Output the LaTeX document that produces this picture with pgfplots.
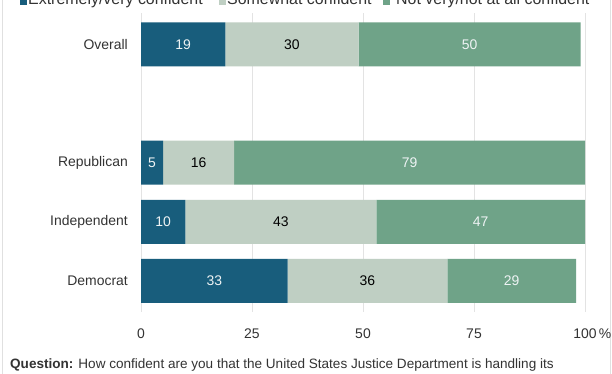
\documentclass[border=0pt]{standalone}
\usepackage{pgfplots}
\pgfplotsset{compat=1.18}
\usepackage{fontspec}
\setmainfont{Liberation Sans}
\definecolor{c1}{HTML}{185D7C}
\definecolor{c2}{HTML}{BFCFC3}
\definecolor{c3}{HTML}{6FA388}
\definecolor{tx}{HTML}{333333}
\definecolor{lw}{HTML}{EEF3F4}
\begin{document}
\begin{tikzpicture}
\useasboundingbox (0bp,0bp) rectangle (612bp,374bp);
\clip (0bp,0bp) rectangle (612bp,374bp);
\fill[white] (0bp,0bp) rectangle (612bp,374bp);
\draw[black!12, line width=1bp] (2bp,-20bp) rectangle (610bp,400bp);
\begin{axis}[at={(141bp,62bp)}, anchor=south west, scale only axis,
  width=444bp, height=299bp,
  xbar stacked, bar width=44bp,
  xmin=0, xmax=100, ymin=-0.524, ymax=4.53,
  xtick={0,25,50,75,100}, xticklabels={0,25,50,75,100\rlap{\,\%}},
  ytick={0,1,2,4}, yticklabels={Democrat,Independent,Republican,Overall},
  xmajorgrids, grid style={draw=black!11, line width=1bp},
  axis line style={draw=none}, major tick length=0pt,
  /pgf/number format/assume math mode=true,
  tick label style={font=\fontsize{14}{16}\selectfont, text=tx},
  xticklabel style={inner sep=0pt, anchor=north, yshift=-17bp},
  yticklabel style={inner sep=0pt, anchor=east, xshift=-13bp},
  nodes near coords,
  every node near coord/.append style={font=\fontsize{14}{16}\selectfont},
  clip=false,
]
\addplot[fill=c1, draw=none, nodes near coords style={text=lw}] coordinates {(33,0) (10,1) (5,2) (19,4)};
\addplot[fill=c2, draw=none, nodes near coords style={text=black}] coordinates {(36,0) (43,1) (16,2) (30,4)};
\addplot[fill=c3, draw=none, nodes near coords style={text=lw}] coordinates {(29,0) (47,1) (79,2) (50,4)};
\end{axis}
\node[anchor=base west, inner sep=0pt, font=\fontsize{16}{18}\selectfont, text=tx] at (20bp,369.3bp) {\textcolor{c1}{\rule{7bp}{7bp}}\hspace{1bp}Extremely/very confident};
\node[anchor=base west, inner sep=0pt, font=\fontsize{16}{18}\selectfont, text=tx] at (219bp,369.3bp) {\textcolor{c2}{\rule{7bp}{7bp}}\hspace{1bp}Somewhat confident};
\node[anchor=base west, inner sep=0pt, font=\fontsize{16}{18}\selectfont, text=tx] at (383bp,369.3bp) {\textcolor{c3}{\rule{7bp}{7bp}}\hspace{6bp}Not very/not at all confident};
\node[anchor=base west, inner sep=0pt, font=\fontsize{13.6}{16}\selectfont, text=tx] at (10bp,6bp) {\textbf{Question:} How confident are you that the United States Justice Department is handling its};
\node[anchor=base west, inner sep=0pt, font=\fontsize{13.6}{16}\selectfont, text=tx] at (10bp,-11bp) {investigation of Hunter Biden in a fair and impartial manner?};
\end{tikzpicture}
\end{document}
